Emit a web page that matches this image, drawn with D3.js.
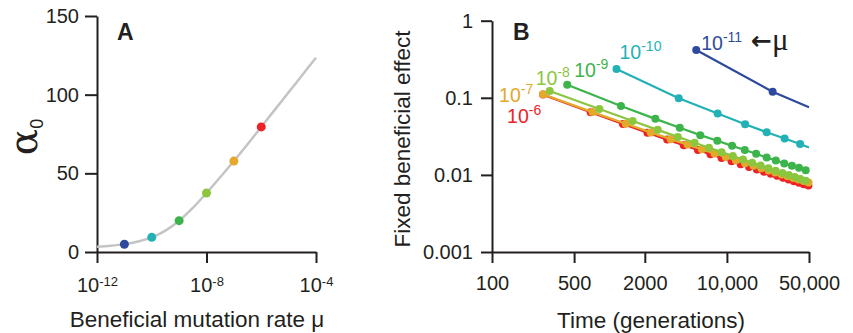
<!DOCTYPE html>
<html>
<head>
<meta charset="utf-8">
<script src="https://cdn.jsdelivr.net/npm/d3@7"></script>
<style>
  body { margin: 0; background: #fff; }
  svg text { font-family: "Liberation Sans", Arial, sans-serif; fill: #231f20; }
  .axis path, .axis line { stroke: #231f20; stroke-width: 2; }
</style>
</head>
<body>
<svg id="chart" width="853" height="333"></svg>
<script>
// ---- panel A: alpha0 vs beneficial mutation rate ----
var curveExp = [-12, -11.5, -11, -10.5, -10, -9.5, -9, -8.5, -8, -7.5, -7, -6.5, -6, -5.5, -5, -4.5, -4];
var curveAlpha = [3.4, 4.0, 5.0, 6.7, 9.3, 13.6, 19.9, 28.0, 37.5, 47.5, 57.8, 68.5, 79.5, 90.5, 101.5, 112.5, 123.5];
var pointExp = [-11, -10, -9, -8, -7, -6];
var pointAlpha = [4.9, 9.3, 19.9, 37.5, 57.8, 79.5];
var alphaTicks = [0, 50, 100, 150];
var muTicks = [-12, -8, -4];

// ---- panel B: fixed beneficial effect vs time, one series per mu ----
var seriesExp = [-11, -10, -9, -8, -7, -6];
var seriesColors = ["#2e4a9e", "#22b2b6", "#3cb44b", "#8cc63f", "#e4a92b", "#ec2227"];
var times11 = [5480, 24500];
var effect11 = [0.417, 0.120];
var times10 = [1148, 3890, 8340, 14300, 21800, 31000, 42000];
var effect10 = [0.237, 0.0989, 0.0624, 0.0455, 0.0358, 0.0296, 0.0251];
var times9 = [437, 1253, 2460, 3970, 5930, 8290, 11070, 14200, 17740, 21800, 26100, 30800, 35800, 41100, 46900];
var effect9 = [0.148, 0.0785, 0.0533, 0.0408, 0.0328, 0.0277, 0.0238, 0.0210, 0.0188, 0.0168, 0.0154, 0.0141, 0.0131, 0.0124, 0.0115];
var times8 = [310, 821, 1576, 2576, 3819, 5307, 7039, 9015, 11236, 13701, 16410, 19363, 22560, 26002, 29687, 33617, 37791, 42210, 46872];
var effect8 = [0.1227, 0.0716, 0.0501, 0.0384, 0.0311, 0.0261, 0.02247, 0.01973, 0.01758, 0.01585, 0.01442, 0.01323, 0.01223, 0.01136, 0.01061, 0.00995, 0.00937, 0.00886, 0.00839];
var times7 = [272, 718, 1376, 2247, 3329, 4624, 6131, 7850, 9781, 11925, 14280, 16848, 19628, 22620, 25824, 29241, 32870, 36711, 40764, 45029, 49506];
var effect7 = [0.1112, 0.0652, 0.0460, 0.0356, 0.0291, 0.0247, 0.02144, 0.01897, 0.01704, 0.01548, 0.01420, 0.01312, 0.01221, 0.01142, 0.01073, 0.01013, 0.00960, 0.00912, 0.00869, 0.00831, 0.00796];
var times6 = [272, 692, 1303, 2107, 3102, 4290, 5670, 7242, 9006, 10962, 13110, 15450, 17983, 20707, 23624, 26732, 30033, 33526, 37210, 41087, 45156, 49417];
var effect6 = [0.110, 0.0648, 0.0457, 0.0353, 0.0287, 0.0243, 0.0210, 0.01854, 0.01661, 0.01505, 0.01377, 0.01270, 0.01178, 0.01100, 0.01032, 0.00972, 0.00920, 0.00873, 0.00830, 0.00792, 0.00758, 0.00727];
// where the line runs on past the last marker (value at 50,000), null = stops at marker
var lineEnd = [0.0755, 0.0226, null, null, null, null];
var timeTicks = [100, 500, 2000, 10000, 50000];
var timeTickLabels = ["100", "500", "2000", "10,000", "50,000"];
var effectTicks = [1, 0.1, 0.01, 0.001];
var effectTickLabels = ["1", "0.1", "0.01", "0.001"];

var svg = d3.select("#chart");

// ================= panel A =================
var xA = d3.scaleLinear().domain([-12, -4]).range([97, 316]);
var yA = d3.scaleLinear().domain([0, 150]).range([252, 16]);

var axA = svg.append("g").attr("class", "axis")
  .attr("transform", "translate(0,252)")
  .call(d3.axisBottom(xA).tickValues(muTicks).tickSize(11).tickSizeOuter(0).tickPadding(13).tickFormat(""));
axA.selectAll(".tick text").each(function(d) {
  var t = d3.select(this).attr("font-size", 20);
  t.append("tspan").text("10");
  t.append("tspan").attr("font-size", 13).attr("dy", "-0.45em").text(d);
});
axA.selectAll(".tick text").attr("y", 40).attr("dy", null);

svg.append("g").attr("class", "axis")
  .attr("transform", "translate(97,0)")
  .call(d3.axisLeft(yA).tickValues(alphaTicks).tickSize(12).tickSizeOuter(0).tickPadding(6))
  .selectAll("text").attr("font-size", 20);
svg.selectAll(".axis").attr("font-family", null);

svg.append("path")
  .datum(d3.zip(curveExp, curveAlpha))
  .attr("fill", "none")
  .attr("stroke", "#c4c4c4")
  .attr("stroke-width", 2.5)
  .attr("d", d3.line().x(d => xA(d[0])).y(d => yA(d[1])).curve(d3.curveMonotoneX));

svg.selectAll(".ptA")
  .data(d3.zip(pointExp, pointAlpha))
  .enter().append("circle")
  .attr("class", "ptA")
  .attr("cx", d => xA(d[0]))
  .attr("cy", d => yA(d[1]))
  .attr("r", 4.5)
  .attr("fill", (d, i) => seriesColors[i]);

svg.append("text").attr("x", 117).attr("y", 40)
  .attr("font-size", 23).attr("font-weight", "bold").text("A");

svg.append("text").attr("x", 197).attr("y", 327)
  .attr("text-anchor", "middle").attr("font-size", 22.5)
  .text("Beneficial mutation rate \u03bc");

var alab = svg.append("text")
  .attr("transform", "translate(37,137) rotate(-90)")
  .attr("text-anchor", "middle");
alab.append("tspan").attr("font-family", "DejaVu Serif, serif").attr("font-size", 39).text("\u03b1");
alab.append("tspan").attr("font-size", 18).attr("dy", 6).text("0");

// ================= panel B =================
var xB = d3.scaleLog().domain([100, 50000]).range([492, 809]);
var yB = d3.scaleLog().domain([0.001, 1]).range([252, 20.7]);

svg.append("g").attr("class", "axis")
  .attr("transform", "translate(0,252)")
  .call(d3.axisBottom(xB).tickValues(timeTicks).tickSize(11).tickSizeOuter(0).tickPadding(13)
    .tickFormat((d, i) => timeTickLabels[i]))
  .selectAll("text").attr("font-size", 20);

svg.append("g").attr("class", "axis")
  .attr("transform", "translate(492,0)")
  .call(d3.axisLeft(yB).tickValues(effectTicks).tickSize(11).tickSizeOuter(0).tickPadding(8)
    .tickFormat((d, i) => effectTickLabels[i]))
  .selectAll("text").attr("font-size", 20);
svg.selectAll(".axis").attr("font-family", null);

var allTimes = [times11, times10, times9, times8, times7, times6];
var allEffects = [effect11, effect10, effect9, effect8, effect7, effect6];
var series = seriesExp.map(function(e, i) {
  var pts = d3.zip(allTimes[i], allEffects[i]);
  var line = pts.slice();
  if (lineEnd[i] != null) line.push([50000, lineEnd[i]]);
  return { exp: e, color: seriesColors[i], points: pts, line: line };
});

var lineB = d3.line().x(d => xB(d[0])).y(d => yB(d[1]));
// draw red first so the higher-mu series lie on top
var drawOrder = series.slice().reverse();
var sg = svg.selectAll(".serie")
  .data(drawOrder)
  .enter().append("g")
  .attr("class", "serie");
sg.append("path")
  .attr("fill", "none")
  .attr("stroke", d => d.color)
  .attr("stroke-width", 2.2)
  .attr("d", d => lineB(d.line));
sg.selectAll("circle")
  .data(d => d.points.map(p => ({ p: p, color: d.color })))
  .enter().append("circle")
  .attr("cx", d => xB(d.p[0]))
  .attr("cy", d => yB(d.p[1]))
  .attr("r", 4)
  .attr("fill", d => d.color);

// series labels, placed relative to each series' first point
var labelDx = [5, 3, 7, -14, -44, -36];
var labelDy = [0, -10, -8, -6, 8, 28];
series.forEach(function(s, i) {
  var p = s.points[0];
  var t = svg.append("text")
    .attr("x", xB(p[0]) + labelDx[i])
    .attr("y", yB(p[1]) + labelDy[i])
    .attr("font-size", 19.5)
    .style("fill", s.color);
  t.append("tspan").text("10");
  t.append("tspan").attr("font-size", 14).attr("dy", -8).text(s.exp);
});

var mu = svg.append("text").attr("x", 751).attr("y", 50);
mu.append("tspan").attr("font-family", "DejaVu Sans").attr("font-weight", "bold").attr("font-size", 25).attr("dy", -1).text("\u2190");
mu.append("tspan").attr("font-family", "Liberation Serif, serif").attr("font-size", 31).attr("dy", 1).text("\u03bc");

svg.append("text").attr("x", 513).attr("y", 40)
  .attr("font-size", 23).attr("font-weight", "bold").text("B");

svg.append("text").attr("x", 651).attr("y", 328)
  .attr("text-anchor", "middle").attr("font-size", 22.5)
  .text("Time (generations)");

svg.append("text")
  .attr("transform", "translate(410,139) rotate(-90)")
  .attr("text-anchor", "middle").attr("font-size", 22.5)
  .text("Fixed beneficial effect");
</script>
</body>
</html>
